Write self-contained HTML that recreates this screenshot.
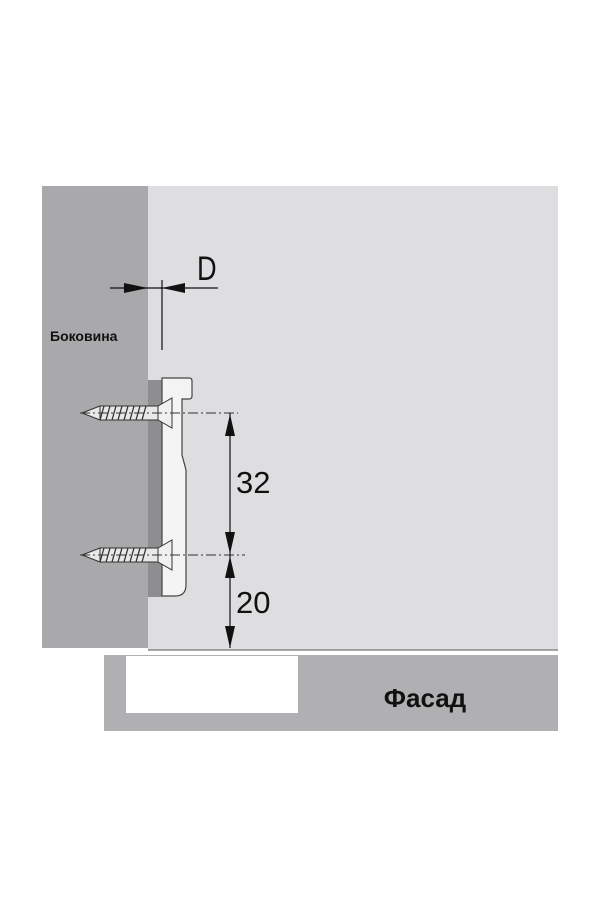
<!DOCTYPE html>
<html><head><meta charset="utf-8"><style>
body{margin:0;background:#fff;width:600px;height:900px;overflow:hidden}
</style></head><body>
<svg width="600" height="900" viewBox="0 0 600 900" xmlns="http://www.w3.org/2000/svg" font-family="Liberation Sans, DejaVu Sans, sans-serif">
<rect x="148" y="186" width="410" height="464" fill="#dedee0"/>
<line x1="148" y1="650" x2="558" y2="650" stroke="#888" stroke-width="1.5"/>
<rect x="42" y="186" width="106" height="462" fill="#a9a9ab"/>
<rect x="104" y="655" width="454" height="76" fill="#b0b0b2"/>
<rect x="126" y="656" width="172" height="57" fill="#fff"/>
<text x="425" y="707" font-size="26" font-weight="bold" text-anchor="middle" fill="#111">Фасад</text>
<text x="50" y="341" font-size="14" font-weight="bold" fill="#111">Боковина</text>
<text x="0" y="280" font-size="34" fill="#111" transform="translate(197,0) scale(0.8,1)">D</text>
<!-- D dimension -->
<line x1="110" y1="288" x2="218" y2="288" stroke="#111" stroke-width="1.2"/>
<polygon points="148,288 124,283 124,293" fill="#111"/>
<polygon points="162,288 185,283 185,293" fill="#111"/>
<line x1="162" y1="280" x2="162" y2="350" stroke="#111" stroke-width="1.2"/>
<!-- dark strip -->
<rect x="148" y="380" width="14" height="217" fill="#8e8e90"/>
<!-- bracket -->
<path d="M162,378 H189 Q192,378 192,381 V396 Q192,399 189,399 H182 V455 L186,470 V585 Q186,596 175,596 H162 Z" fill="#f4f4f4" stroke="#444" stroke-width="1.2"/>
<!-- screws -->
<g stroke="#333" stroke-width="1">
<rect x="100" y="406" width="58" height="14" fill="#e8e8e8"/>
<polygon points="82,413 100,406 100,420" fill="#e8e8e8"/>
<polygon points="158,406 172,398 172,428 158,420" fill="#f0f0f0"/>
<rect x="100" y="548" width="58" height="14" fill="#e8e8e8"/>
<polygon points="82,555 100,548 100,562" fill="#e8e8e8"/>
<polygon points="158,548 172,540 172,570 158,562" fill="#f0f0f0"/>
</g>
<g stroke="#333" stroke-width="1.3">
<path d="M104,406 l-4,14 M110,406 l-4,14 M116,406 l-4,14 M122,406 l-4,14 M128,406 l-4,14 M134,406 l-4,14 M140,406 l-4,14 M146,406 l-4,14"/>
<path d="M104,548 l-4,14 M110,548 l-4,14 M116,548 l-4,14 M122,548 l-4,14 M128,548 l-4,14 M134,548 l-4,14 M140,548 l-4,14 M146,548 l-4,14"/>
</g>
<!-- center lines -->
<line x1="80" y1="413" x2="238" y2="413" stroke="#333" stroke-width="1" stroke-dasharray="10,3,2,3"/>
<line x1="80" y1="555" x2="245" y2="555" stroke="#333" stroke-width="1" stroke-dasharray="10,3,2,3"/>
<!-- vertical dim -->
<line x1="230" y1="413" x2="230" y2="648" stroke="#111" stroke-width="1.2"/>
<polygon points="230,414 225,436 235,436" fill="#111"/>
<polygon points="230,554 225,532 235,532" fill="#111"/>
<polygon points="230,556 225,578 235,578" fill="#111"/>
<polygon points="230,648 225,626 235,626" fill="#111"/>
<text x="236" y="493" font-size="31" fill="#111">32</text>
<text x="236" y="613" font-size="31" fill="#111">20</text>
</svg>
</body></html>
